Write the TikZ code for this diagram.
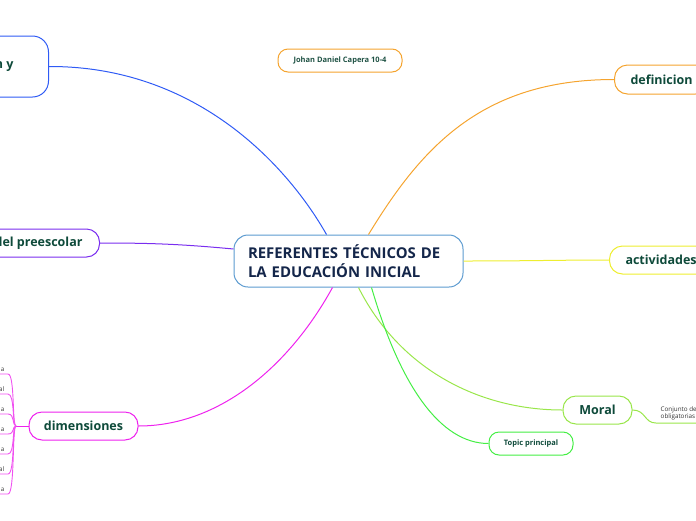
\documentclass[tikz,border=0pt]{standalone}
\usepackage{fontspec}
\setmainfont{Open Sans}
\definecolor{cblue}{HTML}{2F5BF5}
\definecolor{cpurple}{HTML}{7A2EEF}
\definecolor{cmag}{HTML}{EE22EE}
\definecolor{cmagl}{HTML}{F050F0}
\definecolor{corange}{HTML}{F5A42F}
\definecolor{cyellow}{HTML}{EEEE30}
\definecolor{clgreen}{HTML}{99E64A}
\definecolor{cgreen}{HTML}{44EE44}
\definecolor{ccenter}{HTML}{5C9BD0}
\definecolor{ctext}{HTML}{0E4A3A}
\definecolor{cctext}{HTML}{14264A}
\definecolor{csmall}{HTML}{333333}
\begin{document}
\begin{tikzpicture}[x=1pt,y=-1pt,
  topic/.style={draw,line width=1pt,fill=white,rounded corners=12pt,text=ctext,font=\bfseries\fontsize{12.5}{14}\selectfont,inner ysep=0pt},
  small/.style={draw,line width=1pt,fill=white,rounded corners=10pt,text=ctext,font=\bfseries\fontsize{7.5}{9}\selectfont,inner ysep=0pt},
  tiny/.style={text=csmall,font=\fontsize{6.3}{7.5}\selectfont,inner sep=0.5pt},
  conn/.style={line width=1pt}]
\useasboundingbox (0,0) rectangle (696,520);
% central
\node[draw=ccenter,line width=1pt,fill=white,rounded corners=14pt,minimum width=229pt,minimum height=52pt,text width=201pt,align=left,inner xsep=14pt,text=cctext,font=\bfseries\fontsize{14.9}{19.5}\selectfont] (c) at (348.5,261) {REFERENTES TÉCNICOS DE\\LA EDUCACIÓN INICIAL};
% topics
\node[topic,draw=cblue,rounded corners=16pt,anchor=east,inner xsep=35pt,minimum height=61pt] (tl) at (49,66.5) {n y};
\node[topic,draw=cpurple,rounded corners=13pt,anchor=east,inner xsep=17pt,minimum height=28pt] (pre) at (100,243) {del preescolar};
\node[topic,draw=cmag,rounded corners=13pt,minimum width=109pt,minimum height=28pt] (dim) at (83.5,426) {dimensiones};
\node[small,draw=corange,minimum width=124pt,minimum height=23pt,text=ctext!85!gray] (jd) at (340,60.5) {Johan Daniel Capera 10-4};
\node[topic,draw=corange,rounded corners=13pt,anchor=west,inner xsep=16pt,minimum height=29pt] (def) at (614,79.5) {definicion};
\node[topic,draw=cyellow,rounded corners=13pt,anchor=west,inner xsep=16pt,minimum height=28pt] (act) at (609,260) {actividades};
\node[topic,draw=clgreen,rounded corners=13pt,minimum width=69pt,minimum height=28pt] (mor) at (597.5,410) {Moral};
\node[small,draw=cgreen,minimum width=84pt,minimum height=23pt] (tp) at (531,443.5) {Topic principal};
% connectors
\draw[conn,cblue] (tl.east) .. controls (200,66) and (290,170) .. ([xshift=-22pt]c.north);
\draw[conn,corange] ([xshift=20pt]c.north) .. controls (420,150) and (480,79.5) .. (def.west);
\draw[conn,cyellow] (c.east) .. controls (530,261) and (560,260) .. (act.west);
\draw[conn,cpurple] ([yshift=12pt]c.west) .. controls (180,244) and (150,243) .. (pre.east);
\draw[conn,cmag] ([xshift=-16pt]c.south) .. controls (290,365) and (220,426) .. (dim.east);
\draw[conn,clgreen] ([xshift=10pt]c.south) .. controls (400,370) and (480,410) .. (mor.west);
\draw[conn,cgreen] ([xshift=23pt]c.south) .. controls (400,385) and (440,443.5) .. (tp.west);
% Moral subtopic
\node[tiny,anchor=south west,align=left] (ms) at (660,421) {Conjunto de\\obligatorias};
\coordinate (msl) at (656,423);
\draw[conn,clgreen] (mor.east) .. controls (646,410) and (644,423) .. (msl) -- (700,423);
% dimensiones subtopics
\coordinate (j) at (16,426);
\draw[line width=1pt,cmag] (dim.west) -- (j);
\foreach \t/\y [count=\i] in {a/374,al/394,a/414,a/434,a/454,al/474,a/494}{
  \node[tiny,anchor=south east] (s\i) at (5,\y-1.5) {\t};
  \draw[line width=0.9pt,cmagl] (j) .. controls (12,426) and (15,\y) .. (8,\y) -- (-3,\y);
}
\end{tikzpicture}
\end{document}
